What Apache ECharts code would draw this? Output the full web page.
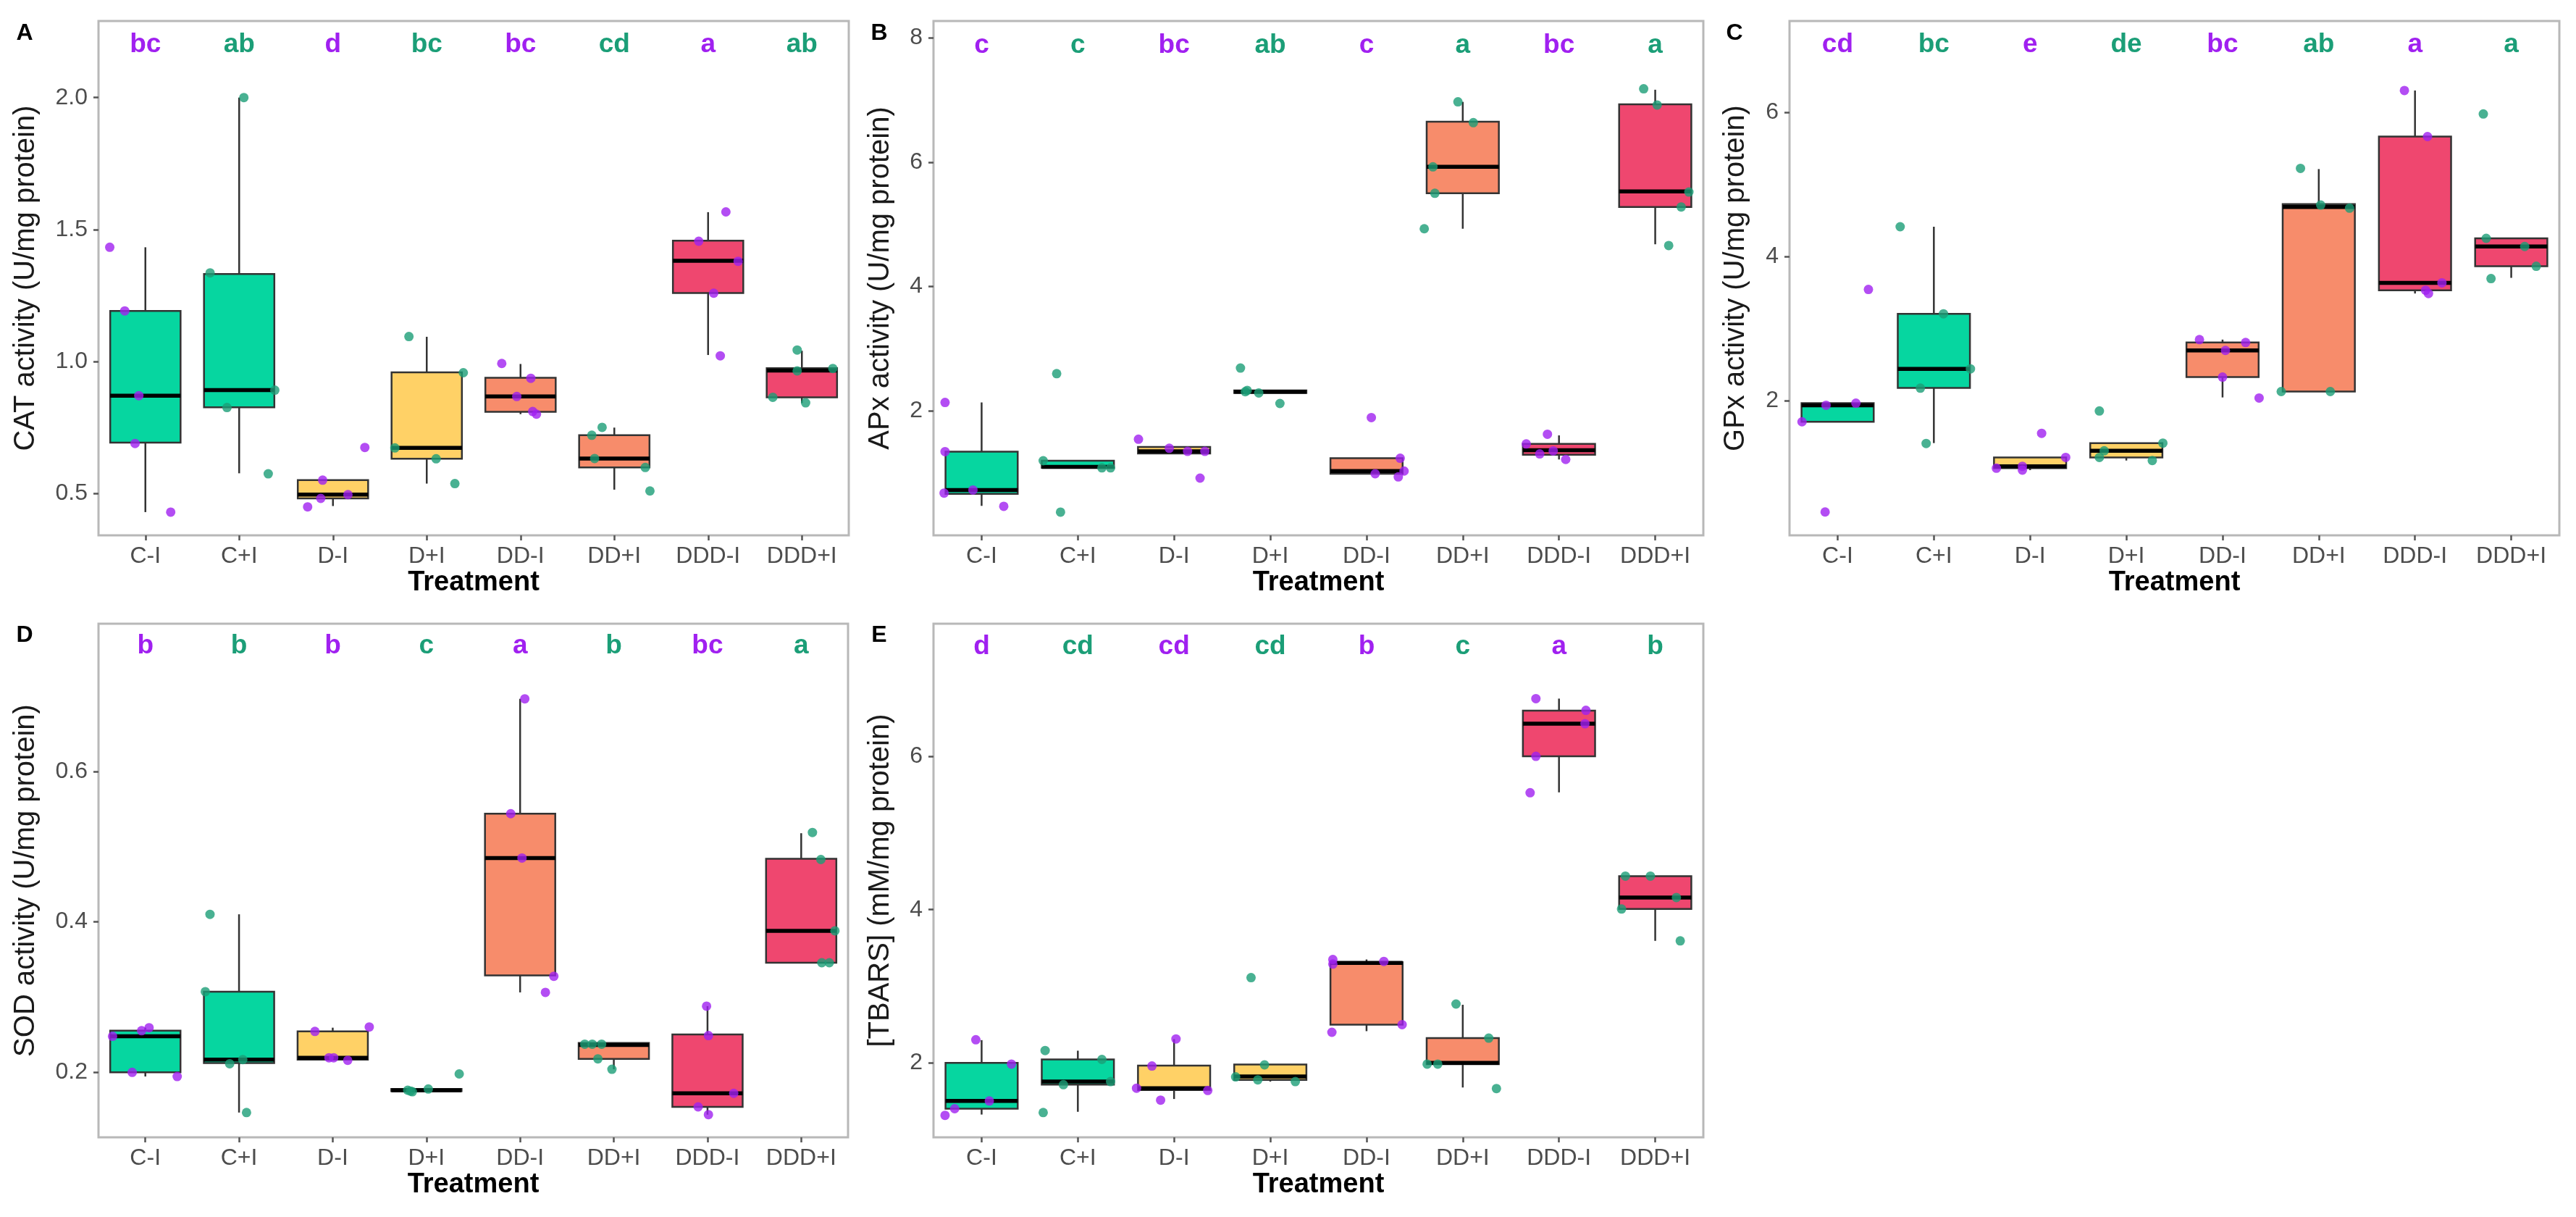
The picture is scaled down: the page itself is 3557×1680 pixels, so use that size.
<!DOCTYPE html>
<html>
<head>
<meta charset="utf-8">
<title>Antioxidant enzymes and TBARS by treatment</title>
<script src="https://cdn.jsdelivr.net/npm/echarts@6.0.0/dist/echarts.min.js"></script>
<style>
	html, body { margin: 0; padding: 0; background: #fff; }
	#box { width: 3557px; height: 1680px; }
</style>
</head>
<body>
<div id="box"></div>
<script>
var categories = ['C-I', 'C+I', 'D-I', 'D+I', 'DD-I', 'DD+I', 'DDD-I', 'DDD+I'];
var boxFills = ['#06D6A0', '#06D6A0', '#FFD166', '#FFD166', '#F78C6B', '#F78C6B', '#EF476F', '#EF476F'];
var dotColors = ['#A020F0', '#1B9E77']; // -I, +I

// box stats per group: [lower whisker, Q1, median, Q3, upper whisker]
var catBox = [
	[0.43, 0.693, 0.871, 1.192, 1.433], [0.577, 0.827, 0.892, 1.332, 2.0],
	[0.453, 0.482, 0.496, 0.551, 0.551], [0.538, 0.632, 0.673, 0.959, 1.094],
	[0.801, 0.81, 0.868, 0.939, 0.991], [0.515, 0.599, 0.633, 0.721, 0.75],
	[1.025, 1.26, 1.382, 1.458, 1.566], [0.843, 0.865, 0.966, 0.975, 1.041]
];
// jittered points per group: [x offset, value]
var catPts = [
	[[-0.38, 1.433], [-0.22, 1.192], [-0.07, 0.871], [-0.11, 0.69], [0.27, 0.43]],
	[[0.05, 2.0], [-0.31, 1.336], [0.38, 0.892], [-0.13, 0.826], [0.31, 0.575]],
	[[-0.11, 0.551], [-0.13, 0.482], [0.16, 0.496], [-0.27, 0.45], [0.34, 0.675]],
	[[-0.19, 1.095], [0.39, 0.958], [-0.34, 0.673], [0.10, 0.632], [0.30, 0.538]],
	[[-0.2, 0.993], [0.11, 0.937], [-0.04, 0.868], [0.13, 0.811], [0.17, 0.801]],
	[[-0.13, 0.751], [-0.24, 0.721], [-0.21, 0.633], [0.33, 0.599], [0.38, 0.51]],
	[[0.19, 1.567], [-0.10, 1.456], [0.32, 1.38], [0.06, 1.259], [0.13, 1.022]],
	[[-0.05, 1.044], [0.33, 0.974], [-0.05, 0.965], [-0.31, 0.865], [0.04, 0.844]]
];
var catLetters = ['bc', 'ab', 'd', 'bc', 'bc', 'cd', 'a', 'ab'];
var catTicks = [0.5, 1.0, 1.5, 2.0];

var apxBox = [
	[0.474, 0.667, 0.729, 1.346, 2.137], [1.085, 1.085, 1.10, 1.2, 1.2],
	[1.315, 1.315, 1.35, 1.42, 1.42], [2.29, 2.29, 2.31, 2.33, 2.33],
	[0.99, 0.99, 1.034, 1.24, 1.24], [4.93, 5.50, 5.925, 6.65, 6.97],
	[1.22, 1.296, 1.37, 1.47, 1.607], [4.68, 5.28, 5.53, 6.93, 7.165]
];
var apxPts = [
	[[-0.38, 2.137], [-0.38, 1.346], [-0.09, 0.729], [-0.39, 0.679], [0.23, 0.467]],
	[[-0.22, 2.6], [-0.36, 1.2], [0.25, 1.085], [0.34, 1.085], [-0.18, 0.374]],
	[[-0.37, 1.545], [-0.05, 1.40], [0.14, 1.35], [0.32, 1.35], [0.27, 0.92]],
	[[-0.31, 2.69], [-0.26, 2.31], [-0.24, 2.33], [-0.12, 2.29], [0.10, 2.12]],
	[[0.05, 1.894], [0.35, 1.24], [0.09, 0.99], [0.33, 0.94], [0.39, 1.034]],
	[[-0.05, 6.97], [0.11, 6.635], [-0.31, 5.925], [-0.29, 5.5], [-0.4, 4.93]],
	[[-0.12, 1.626], [-0.34, 1.47], [-0.06, 1.358], [-0.2, 1.31], [0.07, 1.22]],
	[[-0.12, 7.18], [0.02, 6.92], [0.35, 5.52], [0.27, 5.28], [0.14, 4.66]]
];
var apxLetters = ['c', 'c', 'bc', 'ab', 'c', 'a', 'bc', 'a'];
var apxTicks = [2, 4, 6, 8];

var gpxBox = [
	[1.71, 1.71, 1.94, 1.968, 1.968], [1.415, 2.18, 2.445, 3.208, 4.416],
	[1.04, 1.066, 1.093, 1.216, 1.216], [1.173, 1.216, 1.307, 1.415, 1.415],
	[2.048, 2.33, 2.70, 2.81, 2.85], [2.13, 2.13, 4.69, 4.73, 5.216],
	[3.49, 3.535, 3.638, 5.667, 6.306], [3.707, 3.868, 4.142, 4.255, 4.255]
];
var gpxPts = [
	[[-0.37, 1.71], [-0.12, 1.94], [0.19, 1.968], [0.32, 3.546], [-0.13, 0.459]],
	[[-0.35, 4.416], [0.10, 3.208], [0.38, 2.445], [-0.14, 2.177], [-0.08, 1.41]],
	[[0.12, 1.55], [0.37, 1.216], [-0.08, 1.04], [-0.35, 1.066], [-0.08, 1.093]],
	[[-0.28, 1.86], [0.38, 1.415], [-0.23, 1.307], [-0.28, 1.216], [0.27, 1.173]],
	[[-0.24, 2.85], [0.24, 2.81], [0.03, 2.70], [0, 2.33], [0.38, 2.04]],
	[[-0.19, 5.226], [0.02, 4.717], [0.32, 4.674], [-0.39, 2.13], [0.12, 2.13]],
	[[-0.11, 6.306], [0.13, 5.667], [0.28, 3.638], [0.11, 3.535], [0.14, 3.49]],
	[[-0.29, 5.98], [-0.26, 4.255], [0.14, 4.142], [0.26, 3.868], [-0.21, 3.697]]
];
var gpxLetters = ['cd', 'bc', 'e', 'de', 'bc', 'ab', 'a', 'a'];
var gpxTicks = [2, 4, 6];

var sodBox = [
	[0.194, 0.1995, 0.2475, 0.255, 0.259], [0.146, 0.212, 0.2165, 0.307, 0.41],
	[0.2155, 0.2165, 0.219, 0.254, 0.259], [0.1737, 0.1745, 0.1757, 0.1773, 0.1773],
	[0.306, 0.3285, 0.485, 0.544, 0.697], [0.2036, 0.2175, 0.236, 0.2387, 0.2387],
	[0.1432, 0.1535, 0.1716, 0.25, 0.2877], [0.3455, 0.3455, 0.388, 0.484, 0.518]
];
var sodPts = [
	[[-0.35, 0.2475], [-0.04, 0.255], [0.04, 0.259], [-0.14, 0.1995], [0.34, 0.194]],
	[[-0.31, 0.41], [-0.36, 0.307], [0.04, 0.2165], [-0.10, 0.211], [0.08, 0.146]],
	[[-0.19, 0.254], [0.39, 0.26], [-0.04, 0.219], [0.01, 0.219], [0.16, 0.2155]],
	[[0.35, 0.1974], [0.02, 0.1773], [-0.15, 0.1737], [-0.2, 0.1757], [-0.17, 0.1745]],
	[[0.05, 0.697], [-0.10, 0.544], [0.02, 0.485], [0.36, 0.3275], [0.27, 0.306]],
	[[-0.31, 0.237], [-0.23, 0.237], [-0.13, 0.237], [-0.17, 0.2175], [-0.02, 0.2036]],
	[[-0.01, 0.2877], [0.01, 0.2485], [0.28, 0.1716], [-0.10, 0.1535], [0.01, 0.1432]],
	[[0.12, 0.519], [0.21, 0.483], [0.36, 0.388], [0.22, 0.3455], [0.30, 0.3455]]
];
var sodLetters = ['b', 'b', 'b', 'c', 'a', 'b', 'bc', 'a'];
var sodTicks = [0.2, 0.4, 0.6];

var tbarsBox = [
	[1.327, 1.403, 1.504, 2.0, 2.298], [1.363, 1.717, 1.757, 2.046, 2.16],
	[1.53, 1.646, 1.67, 1.965, 2.31], [1.757, 1.78, 1.823, 1.98, 1.98],
	[2.415, 2.50, 3.305, 3.315, 3.35], [1.68, 1.985, 2.0, 2.324, 2.759],
	[5.53, 6.0, 6.425, 6.597, 6.753], [3.593, 4.008, 4.159, 4.437, 4.437]
];
var tbarsPts = [
	[[-0.06, 2.303], [0.31, 1.985], [0.08, 1.504], [-0.28, 1.403], [-0.38, 1.317]],
	[[-0.34, 2.162], [0.25, 2.046], [0.34, 1.757], [-0.15, 1.717], [-0.36, 1.353]],
	[[0.02, 2.314], [-0.23, 1.96], [-0.39, 1.671], [0.35, 1.641], [-0.14, 1.515]],
	[[-0.2, 3.113], [-0.06, 1.975], [-0.36, 1.818], [-0.13, 1.78], [0.26, 1.757]],
	[[-0.35, 3.35], [0.18, 3.325], [-0.35, 3.29], [0.37, 2.50], [-0.36, 2.40]],
	[[-0.07, 2.769], [0.27, 2.324], [-0.37, 1.985], [-0.26, 1.985], [0.35, 1.666]],
	[[-0.24, 6.753], [0.28, 6.60], [0.27, 6.425], [-0.24, 6.0], [-0.30, 5.525]],
	[[-0.31, 4.437], [-0.05, 4.437], [0.22, 4.159], [-0.35, 4.008], [0.26, 3.593]]
];
var tbarsLetters = ['d', 'cd', 'cd', 'cd', 'b', 'c', 'a', 'b'];
var tbarsTicks = [2, 4, 6];

var FONT = "'Liberation Sans', Arial, sans-serif";

var panels = [
	{tag: 'A', title: 'CAT activity (U/mg protein)', box: catBox, pts: catPts, letters: catLetters, letterY: 2.2,
		ticks: catTicks, digits: 1, min: 0.342, max: 2.29, grid: {left: 136, top: 29, width: 1036, height: 710}, nameGap: 80, tagPos: [34, 46]},
	{tag: 'B', title: 'APx activity (U/mg protein)', box: apxBox, pts: apxPts, letters: apxLetters, letterY: 7.88,
		ticks: apxTicks, digits: 0, min: 0.0, max: 8.27, grid: {left: 1289, top: 29, width: 1063, height: 710}, nameGap: 53, tagPos: [1214, 46]},
	{tag: 'C', title: 'GPx activity (U/mg protein)', box: gpxBox, pts: gpxPts, letters: gpxLetters, letterY: 6.94,
		ticks: gpxTicks, digits: 0, min: 0.135, max: 7.27, grid: {left: 2471, top: 29, width: 1063, height: 710}, nameGap: 54, tagPos: [2395, 46]},
	{tag: 'D', title: 'SOD activity (U/mg protein)', box: sodBox, pts: sodPts, letters: sodLetters, letterY: 0.767,
		ticks: sodTicks, digits: 1, min: 0.113, max: 0.797, grid: {left: 136, top: 861, width: 1035, height: 709}, nameGap: 80, tagPos: [34, 877]},
	{tag: 'E', title: '[TBARS] (mM/mg protein)', box: tbarsBox, pts: tbarsPts, letters: tbarsLetters, letterY: 7.43,
		ticks: tbarsTicks, digits: 0, min: 1.03, max: 7.73, grid: {left: 1289, top: 861, width: 1063, height: 709}, nameGap: 53, tagPos: [1214, 877]}
];

function renderBox(params, api) {
	var i = api.value(0);
	var lo = api.coord([i, api.value(1)]);
	var q1 = api.coord([i, api.value(2)]);
	var md = api.coord([i, api.value(3)]);
	var q3 = api.coord([i, api.value(4)]);
	var hi = api.coord([i, api.value(5)]);
	var w = api.size([1, 0])[0] * 0.75;
	var x = md[0];
	var thin = {stroke: '#333', lineWidth: 2.5};
	return {
		type: 'group',
		children: [
			{type: 'line', shape: {x1: x, y1: hi[1], x2: x, y2: q3[1]}, style: thin},
			{type: 'line', shape: {x1: x, y1: q1[1], x2: x, y2: lo[1]}, style: thin},
			{type: 'rect', shape: {x: x - w / 2, y: q3[1], width: w, height: q1[1] - q3[1]},
				style: {fill: boxFills[i], stroke: '#333', lineWidth: 2.5}},
			{type: 'line', shape: {x1: x - w / 2, y1: md[1], x2: x + w / 2, y2: md[1]},
				style: {stroke: '#000', lineWidth: 5.5}}
		]
	};
}

var grids = [], xAxes = [], yAxes = [], series = [], graphics = [];

panels.forEach(function(p, k) {
	grids.push({
		left: p.grid.left, top: p.grid.top, width: p.grid.width, height: p.grid.height,
		show: true, borderColor: '#b8b8b8', borderWidth: 3, backgroundColor: 'transparent'
	});
	xAxes.push({
		type: 'category', gridIndex: k, data: categories,
		axisLine: {show: false, onZero: false},
		axisTick: {show: true, alignWithLabel: true, length: 7, lineStyle: {color: '#555', width: 2.5}},
		axisLabel: {color: '#4D4D4D', fontSize: 32, fontFamily: FONT, margin: 13},
		splitLine: {show: false},
		name: 'Treatment', nameLocation: 'middle', nameGap: 47,
		nameTextStyle: {color: '#000', fontSize: 38, fontWeight: 'bold', fontFamily: FONT}
	});
	xAxes.push({
		type: 'value', gridIndex: k, min: -0.5, max: 7.5, show: false
	});
	yAxes.push({
		type: 'value', gridIndex: k, min: p.min, max: p.max,
		axisLine: {show: false, onZero: false},
		axisTick: {show: true, length: 7, customValues: p.ticks, lineStyle: {color: '#555', width: 2.5}},
		axisLabel: {
			color: '#4D4D4D', fontSize: 32, fontFamily: FONT, margin: 15, customValues: p.ticks,
			formatter: (function(d) { return function(v) { return Number(v).toFixed(d); }; })(p.digits)
		},
		splitLine: {show: false},
		name: p.title, nameLocation: 'middle', nameGap: p.nameGap,
		nameTextStyle: {color: '#1a1a1a', fontSize: 40, fontFamily: FONT}
	});

	series.push({
		type: 'custom', xAxisIndex: 2 * k, yAxisIndex: k,
		renderItem: renderBox,
		encode: {x: 0, y: [1, 2, 3, 4, 5]},
		data: p.box.map(function(b, i) { return [i].concat(b); }),
		z: 2
	});

	var dots = [];
	p.pts.forEach(function(group, i) {
		group.forEach(function(pt) {
			dots.push({value: [i + pt[0], pt[1]], itemStyle: {color: dotColors[i % 2]}});
		});
	});
	series.push({
		type: 'scatter', xAxisIndex: 2 * k + 1, yAxisIndex: k,
		symbolSize: 13, data: dots, z: 3, silent: true
	});

	var letters = p.letters;
	series.push({
		type: 'custom', xAxisIndex: 2 * k + 1, yAxisIndex: k,
		clip: false, z: 4,
		data: letters.map(function(t, i) { return [i, p.letterY]; }),
		renderItem: function(params, api) {
			var c = api.coord([api.value(0), api.value(1)]);
			return {
				type: 'text', x: c[0], y: c[1],
				style: {
					text: letters[params.dataIndex], fill: dotColors[params.dataIndex % 2],
					font: 'bold 37px ' + FONT, align: 'center', verticalAlign: 'middle'
				}
			};
		}
	});

	graphics.push({
		type: 'text', x: p.tagPos[0], y: p.tagPos[1],
		style: {text: p.tag, fill: '#000', font: 'bold 32px ' + FONT, align: 'center', verticalAlign: 'middle'}
	});
});

var chart = echarts.init(document.getElementById('box'));
chart.setOption({
	animation: false,
	backgroundColor: '#fff',
	grid: grids,
	xAxis: xAxes,
	yAxis: yAxes,
	series: series,
	graphic: graphics
});
</script>
</body>
</html>
